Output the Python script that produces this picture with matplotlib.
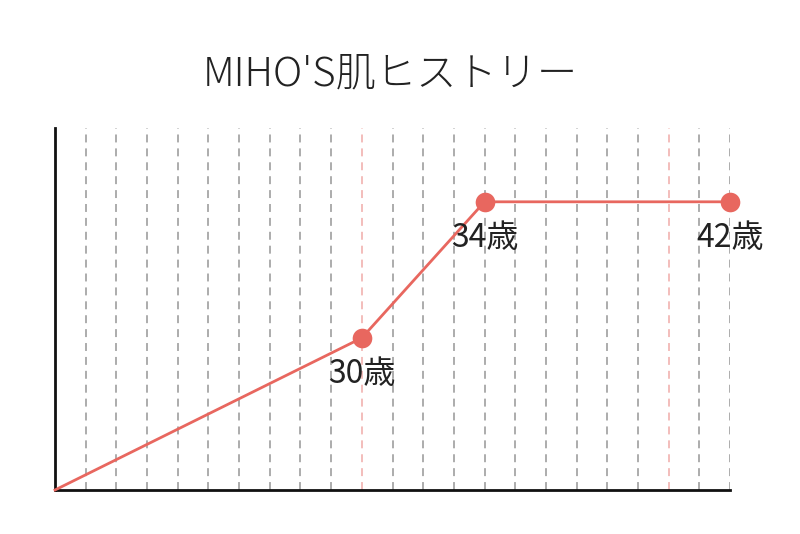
import matplotlib
matplotlib.use("Agg")
import matplotlib.pyplot as plt

plt.rcParams['font.family'] = ['Noto Sans CJK JP', 'DejaVu Sans']

# skin history: age vs. (unitless) level
ages = [20, 30, 34, 42]
levels = [0, 42, 79.6, 79.6]
labels = ["", "30歳", "34歳", "42歳"]
grid_ages = list(range(21, 43))
accent_ages = [30, 40]

line_col = "#E8675F"

fig = plt.figure(figsize=(8, 5.34), dpi=100)
ax = fig.add_axes([0.06875, 0.0824, 0.84375, 0.678])

for a in grid_ages:
    c = "#F2B8B5" if a in accent_ages else "#A6A6A6"
    ax.axvline(a, color=c, lw=1.3, dashes=(4.4, 3.3), zorder=1)

ax.plot(ages, levels, color=line_col, lw=2, zorder=3, clip_on=False)
ax.scatter(ages[1:], levels[1:], s=200, color=line_col, zorder=4, clip_on=False,
           linewidths=0)

for a, v, t in zip(ages, levels, labels):
    if t:
        ax.annotate(t, (a, v), xytext=(0, -26), textcoords="offset points",
                    ha="center", va="center", fontsize=23, color="#222222")

ax.set_xlim(20, 42)
ax.set_ylim(0, 100)
ax.set_xticks([])
ax.set_yticks([])
for s in ["top", "right"]:
    ax.spines[s].set_visible(False)
for s in ["left", "bottom"]:
    ax.spines[s].set_linewidth(2)
    ax.spines[s].set_color("#111111")

fig.text(0.4875, 0.86, "MIHO'S肌ヒストリー", ha="center", va="center",
         fontsize=29, color="#222222", fontweight="light")

fig.savefig("out.png", dpi=100, facecolor="white")
